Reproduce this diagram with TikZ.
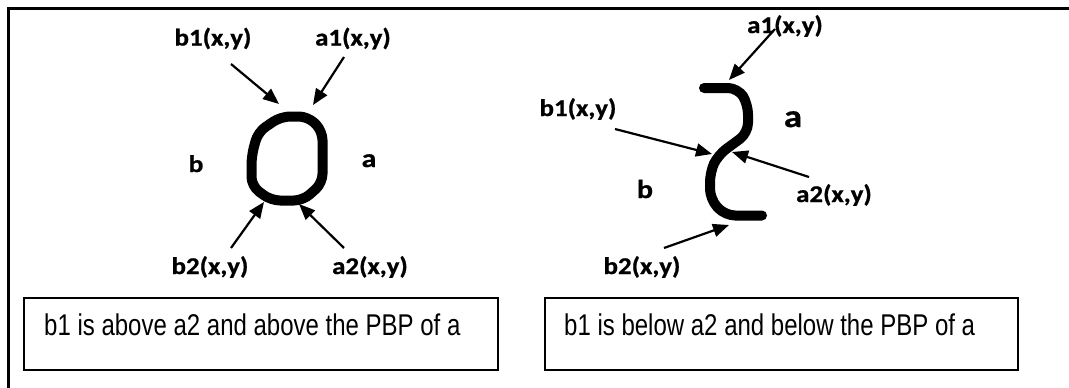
\documentclass[tikz,border=0pt]{standalone}
\usepackage{fontspec}
\usetikzlibrary{arrows.meta}
\newfontfamily\lblfont[FakeStretch=1.12,FakeBold=0.8]{Carlito Bold}
\newfontfamily\sidefont[FakeStretch=1.15,FakeBold=0.8]{Carlito Bold}
\newfontfamily\boxfont[FakeStretch=0.8]{Liberation Sans}
\tikzset{
  lbl/.style={font=\lblfont\fontsize{24}{26}\selectfont, inner sep=0pt, anchor=base},
  side/.style={font=\sidefont\fontsize{#1}{#1}\selectfont, inner sep=0pt, anchor=base},
  ptr/.style={line width=2.2pt, -{Triangle[length=16pt,width=13pt]}},
  stroke/.style={line width=10pt, line cap=round, line join=round, rounded corners=9pt},
  frame/.style={line width=2.2pt},
  capbox/.style={draw, line width=2pt, anchor=north west, inner sep=0pt},
  captext/.style={font=\boxfont\fontsize{30}{32}\selectfont, inner sep=0pt, anchor=base west}
}
\begin{document}
\begin{tikzpicture}[x=1pt,y=-1pt]
\useasboundingbox[fill=white] (0,0) rectangle (1069,388);
% outer frame (only top and left edges visible)
\coordinate (fr1) at (1069,8.5);
\coordinate (fr2) at (8.5,8.5);
\coordinate (fr3) at (8.5,388);
\draw[frame] (fr1) -- (fr2) -- (fr3);

% ---------- left panel ----------
\draw[stroke] (251.5,186) -- (251.5,156) -- (258,132) -- (281,116.5) -- (308,116.5)
  -- (322.5,131) -- (322.5,183) -- (303,200.5) -- (271,200.5) -- cycle;

\node[lbl] (Lb1) at (213,45.5) {b1(x,y)};
\node[lbl] (La1) at (353,45.5) {a1(x,y)};
\node[lbl] (Lb2) at (210,274) {b2(x,y)};
\node[lbl] (La2) at (370,274) {a2(x,y)};
\node[side=24] (Lb) at (196,172) {b};
\node[side=26] (La) at (369,167) {a};

\coordinate (Lb1s) at (231,64);   \coordinate (Lb1e) at (279,104);
\coordinate (La1s) at (344,57);   \coordinate (La1e) at (313,105);
\coordinate (Lb2s) at (231,248);  \coordinate (Lb2e) at (264,202);
\coordinate (La2s) at (344,248);  \coordinate (La2e) at (299,204);
\draw[ptr] (Lb1s) -- (Lb1e);
\draw[ptr] (La1s) -- (La1e);
\draw[ptr] (Lb2s) -- (Lb2e);
\draw[ptr] (La2s) -- (La2e);

\node[capbox, minimum width=474pt, minimum height=72pt] (Lbox) at (23,297) {};
\node[captext] (Ltxt) at (44,335) {b1 is above a2 and above the PBP of a};

% ---------- right panel ----------
\draw[stroke, rounded corners=10pt] (704,88) -- (738,88) -- (748,104) -- (748,133) -- (718,155)
  -- (710,172) -- (710,199) -- (725,215.5) -- (762,215.5);

\node[lbl] (Ra1) at (785,33) {a1(x,y)};
\node[lbl] (Rb1) at (578,116) {b1(x,y)};
\node[lbl] (Ra2) at (834,202) {a2(x,y)};
\node[lbl] (Rb2) at (642,274) {b2(x,y)};
\node[side=32] (Ra) at (793,127) {a};
\node[side=26] (Rb) at (645,198) {b};

\coordinate (Ra1s) at (775,29);   \coordinate (Ra1e) at (729,80);
\coordinate (Rb1s) at (615,129);  \coordinate (Rb1e) at (712,154);
\coordinate (Ra2s) at (809,177);  \coordinate (Ra2e) at (732,152);
\coordinate (Rb2s) at (664,248);  \coordinate (Rb2e) at (729,225);
\draw[ptr] (Ra1s) -- (Ra1e);
\draw[ptr] (Rb1s) -- (Rb1e);
\draw[ptr] (Ra2s) -- (Ra2e);
\draw[ptr] (Rb2s) -- (Rb2e);

\node[capbox, minimum width=473pt, minimum height=72pt] (Rbox) at (544,297) {};
\node[captext] (Rtxt) at (564,335) {b1 is below a2 and below the PBP of a};
\end{tikzpicture}
\end{document}
